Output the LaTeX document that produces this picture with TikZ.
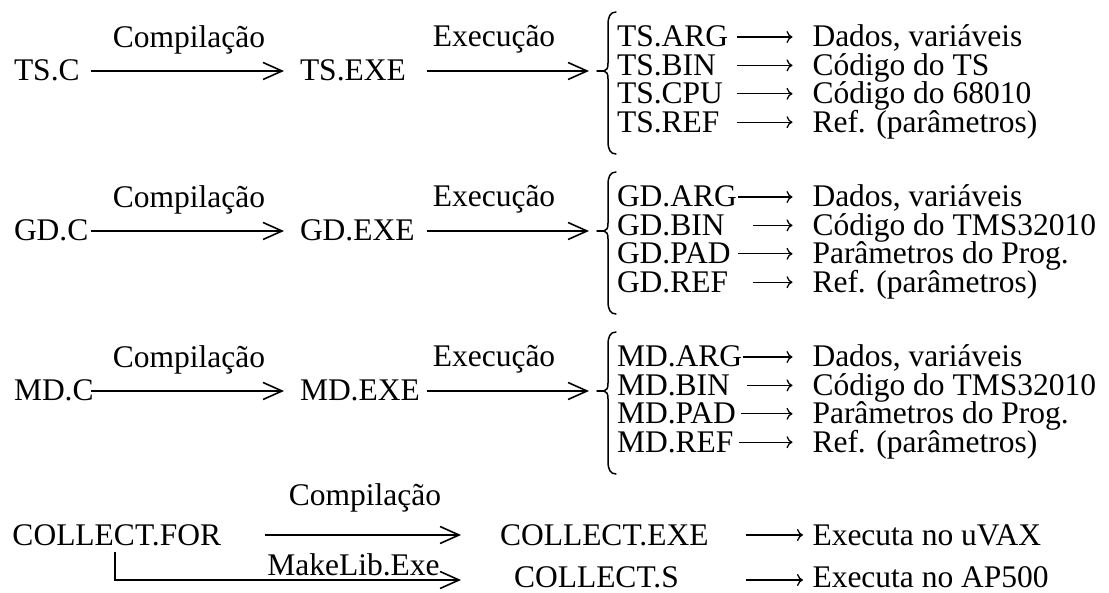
\documentclass[tikz,border=0pt]{standalone}
\usepackage{fontspec}
\setmainfont{Liberation Serif}
\usetikzlibrary{arrows.meta}

% one output file of a program: file name, arrow, description
\newcommand\outrow[5]{% #1 name, #2 baseline, #3 file, #4 column width, #5 description
  \node[txt, text width=#4pt, align=left] (#1) at (617,#2) {#3};
  \node[txt] (#1d) at (812.5,#2) {#5};
  \draw[smallarrow] (#1) -- (#1d);}

% left brace gathering the output files, with its short entry stroke
\newcommand\filebrace[2]{% #1 name of the entry point, #2 vertical offset
  \begin{scope}[shift={(0,#2)}]
    \coordinate (#1) at (597,71);
    \draw[bracestyle] (#1) -- (604,71);
    \draw[bracestyle] (616,12) .. controls (610,12) and (608,17) .. (608,25)
      -- (608,63) .. controls (608,68) and (607,70.5) .. (604,71)
      .. controls (607,71.5) and (608,74) .. (608,79)
      -- (608,141) .. controls (608,149) and (610,154) .. (616,154);
  \end{scope}}

\begin{document}
\begin{tikzpicture}[x=1pt,y=-1pt,
  txt/.style={inner sep=0pt, outer sep=0pt, anchor=base west,
    text height=20pt, text depth=0pt, font=\fontsize{31.5}{33}\selectfont},
  lbl/.style={inner sep=0pt, anchor=base, font=\fontsize{31.5}{33}\selectfont},
  bigarrow/.style={line width=1.6pt,
    -{Straight Barb[length=19pt,width=17pt,line width=1.6pt]}},
  smallarrow/.style={line width=1.3pt, -{To[length=6pt,width=12pt]},
    shorten >=20pt},
  bracestyle/.style={line width=1.5pt, line cap=round, line join=round}]
\useasboundingbox (0,0) rectangle (1109,593);

% ---- TS ----
\node[txt, text width=77pt, align=left] (tsc) at (14,81) {TS.C};
\node[txt, text width=127pt, align=left] (tsexe) at (300,81) {TS.EXE};
\node[lbl] (tsl1) at (189,48) {Compilação};
\node[lbl] (tsl2) at (494,47) {Execução};
\draw[bigarrow, shorten >=16pt] (tsc) -- (tsexe);
\filebrace{tsb}{0}
\draw[bigarrow, shorten >=8pt] (tsexe) -- (tsb);
\outrow{tsarg}{47}{TS.ARG}{120}{Dados, variáveis}
\outrow{tsbin}{75.4}{TS.BIN}{120}{Código do TS}
\outrow{tscpu}{103.8}{TS.CPU}{120}{Código do 68010}
\outrow{tsref}{132.2}{TS.REF}{120}{Ref. (parâmetros)}

% ---- GD ----
\node[txt, text width=77pt, align=left] (gdc) at (14,241) {GD.C};
\node[txt, text width=127pt, align=left] (gdexe) at (300,241) {GD.EXE};
\node[lbl] (gdl1) at (189,208) {Compilação};
\node[lbl] (gdl2) at (494,207) {Execução};
\draw[bigarrow, shorten >=16pt] (gdc) -- (gdexe);
\filebrace{gdb}{160}
\draw[bigarrow, shorten >=8pt] (gdexe) -- (gdb);
\outrow{gdarg}{207}{GD.ARG}{121}{Dados, variáveis}
\outrow{gdbin}{235.4}{GD.BIN}{136}{Código do TMS32010}
\outrow{gdpad}{263.8}{GD.PAD}{121}{Parâmetros do Prog.}
\outrow{gdref}{292.2}{GD.REF}{136}{Ref. (parâmetros)}

% ---- MD ----
\node[txt, text width=77pt, align=left] (mdc) at (14,401) {MD.C};
\node[txt, text width=127pt, align=left] (mdexe) at (300,401) {MD.EXE};
\node[lbl] (mdl1) at (189,368) {Compilação};
\node[lbl] (mdl2) at (494,367) {Execução};
\draw[bigarrow, shorten >=16pt] (mdc) -- (mdexe);
\filebrace{mdb}{320}
\draw[bigarrow, shorten >=8pt] (mdexe) -- (mdb);
\outrow{mdarg}{367}{MD.ARG}{126}{Dados, variáveis}
\outrow{mdbin}{395.4}{MD.BIN}{130}{Código do TMS32010}
\outrow{mdpad}{423.8}{MD.PAD}{124}{Parâmetros do Prog.}
\outrow{mdref}{452.2}{MD.REF}{122}{Ref. (parâmetros)}

% ---- COLLECT ----
\node[txt] (cfor) at (12.5,545) {COLLECT.FOR};
\node[txt] (cexe) at (500,545) {COLLECT.EXE};
\node[txt] (cexed) at (812.5,545) {Executa no uVAX};
\node[txt, text depth=6pt] (cs) at (514,587) {COLLECT.S};
\node[txt, text depth=6pt] (csd) at (812.5,587) {Executa no AP500};
\node[lbl] (cl1) at (365,505) {Compilação};
\node[lbl] (cl2) at (353.5,575) {MakeLib.Exe};
\draw[bigarrow, shorten <=43.5pt, shorten >=39pt] (cfor) -- (cexe);
\draw[bigarrow, shorten <=7pt, shorten >=53pt] ([xshift=102.5pt]cfor.south west) |- (cs);
\draw[smallarrow, shorten <=37pt, shorten >=9.5pt] (cexe) -- (cexed);
\draw[smallarrow, shorten <=67pt, shorten >=9.5pt] (cs) -- (csd);
\end{tikzpicture}
\end{document}
